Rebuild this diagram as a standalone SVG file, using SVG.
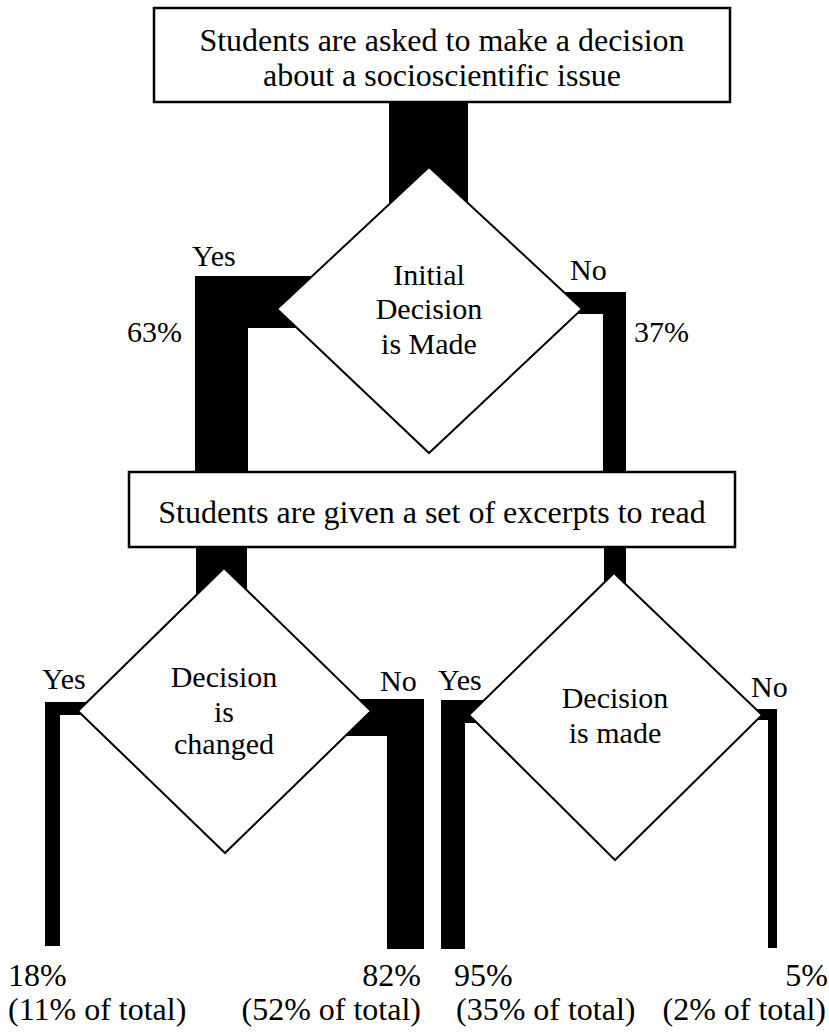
<svg xmlns="http://www.w3.org/2000/svg" width="829" height="1033" viewBox="0 0 829 1033">
<defs>
<style type="text/css">
.box{fill:#fff;stroke:#000;stroke-width:2.5}
.dia{fill:#fff;stroke:#000;stroke-width:2}
.band{fill:#000;stroke:none}
.t{font-family:'Liberation Serif','DejaVu Serif','Noto Serif',serif;fill:#000}
.bt{font-size:32px;text-anchor:middle}
.dt{font-size:30px;text-anchor:middle}
.lb{font-size:30px}
.pc{font-size:32px}
</style>
</defs>
<rect width="829" height="1033" fill="#fff"/>
<g id="connectors">
<rect class="band" x="389" y="100" width="79" height="150"/>
<path class="band" d="M195,276 H350 V328 H248 V474 H195 Z"/>
<path class="band" d="M500,292 H626 V474 H603 V314 H500 Z"/>
<rect class="band" x="196" y="545" width="51" height="100"/>
<rect class="band" x="604" y="545" width="22" height="100"/>
<path class="band" d="M45,702 H150 V715 H60 V946 H45 Z"/>
<path class="band" d="M300,699 H424 V949 H387 V736 H300 Z"/>
<path class="band" d="M441,700 H540 V723 H465 V949 H441 Z"/>
<path class="band" d="M700,709 H777 V948 H768 V720 H700 Z"/>
</g>
<g id="start">
<rect class="box" x="154" y="8" width="576" height="94"/>
<text class="t bt" font-family="Liberation Serif, serif" x="442" y="51">Students are asked to make a decision</text>
<text class="t bt" font-family="Liberation Serif, serif" x="442" y="86">about a socioscientific issue</text>
</g>
<g id="initial-decision">
<polygon class="dia" points="429,167 582,309 429,453 277,309"/>
<text class="t dt" x="429" y="285">Initial</text>
<text class="t dt" x="429" y="319">Decision</text>
<text class="t dt" x="429" y="354">is Made</text>
</g>
<g id="excerpts">
<rect class="box" x="129" y="472" width="606" height="75"/>
<text class="t bt" x="432" y="523">Students are given a set of excerpts to read</text>
</g>
<g id="decision-changed">
<polygon class="dia" points="224,568 371,711 225,853 78,711"/>
<text class="t dt" x="224" y="687">Decision</text>
<text class="t dt" x="224" y="722">is</text>
<text class="t dt" x="224" y="754">changed</text>
</g>
<g id="decision-made">
<polygon class="dia" points="614,573 762,715 615,860 469,715"/>
<text class="t dt" x="615" y="708">Decision</text>
<text class="t dt" x="615" y="743">is made</text>
</g>
<g id="labels">
<text class="t lb" x="192" y="266">Yes</text>
<text class="t lb" x="570" y="280">No</text>
<text class="t lb" x="127" y="342">63%</text>
<text class="t lb" x="634" y="342">37%</text>
<text class="t lb" x="42" y="689">Yes</text>
<text class="t lb" x="380" y="691">No</text>
<text class="t lb" x="438" y="690">Yes</text>
<text class="t lb" x="751" y="697">No</text>
<text class="t pc" x="8" y="986">18%</text>
<text class="t pc" x="8" y="1020">(11% of total)</text>
<text class="t pc" x="421" y="986" text-anchor="end">82%</text>
<text class="t pc" x="421" y="1020" text-anchor="end">(52% of total)</text>
<text class="t pc" x="454" y="986">95%</text>
<text class="t pc" x="456" y="1020">(35% of total)</text>
<text class="t pc" x="828" y="986" text-anchor="end">5%</text>
<text class="t pc" x="826" y="1020" text-anchor="end">(2% of total)</text>
</g>
</svg>
